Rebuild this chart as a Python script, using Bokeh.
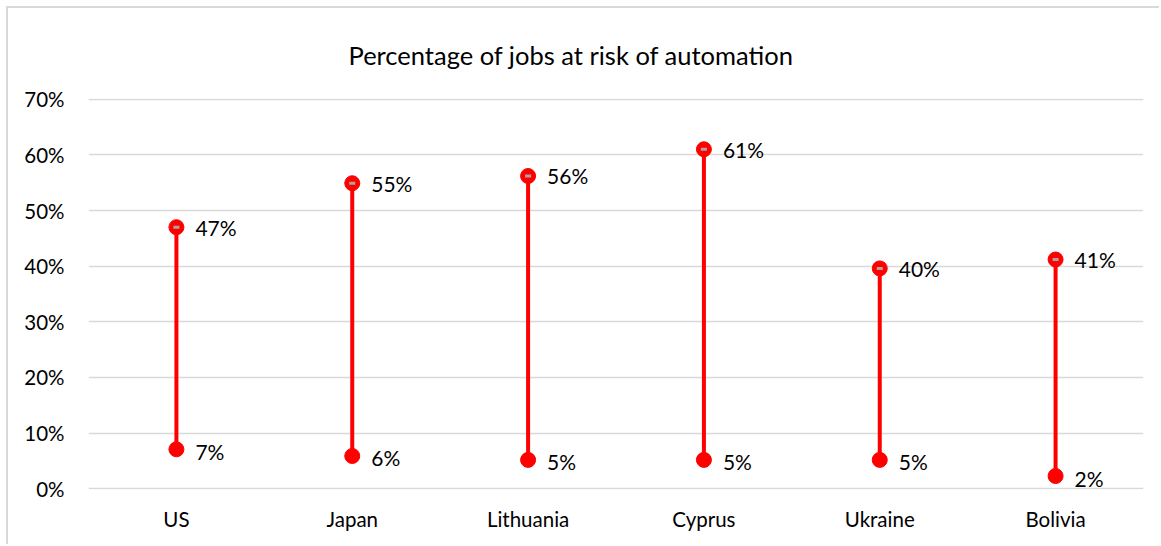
from bokeh.plotting import figure
from bokeh.models import ColumnDataSource, PrintfTickFormatter, FixedTicker, Range1d, LabelSet
from bokeh.core.properties import value
from bokeh.embed import file_html
from bokeh.resources import INLINE

title_text = "Percentage of jobs at risk of automation"
countries = ["US", "Japan", "Lithuania", "Cyprus", "Ukraine", "Bolivia"]
high = [47.0, 54.9, 56.2, 61.0, 39.6, 41.2]
low = [7.1, 5.9, 5.2, 5.2, 5.2, 2.3]
y_ticks = [0, 10, 20, 30, 40, 50, 60, 70]

FONT = "Lato"
RED = "#FF0000"

src = ColumnDataSource(dict(
    x=countries, high=high, low=low,
    high_lbl=[f"{round(v)}%" for v in high],
    low_lbl=[f"{round(v)}%" for v in low],
))

p = figure(x_range=countries, y_range=Range1d(-0.12, 70.12), width=1153, height=538,
           output_backend="svg", toolbar_location=None,
           min_border_left=80, min_border_right=18, min_border_top=88, min_border_bottom=57)
p.styles = {"margin-left": "6px", "margin-top": "6px",
            "border-left": "2px solid #d9d9d9", "border-top": "2px solid #d9d9d9"}

p.title.text = title_text
p.title.align = "left"
p.title.offset = 260
p.title.text_font = FONT
p.title.text_font_size = "25.5px"
p.title.text_font_style = "normal"
p.title.text_color = "#000000"
p.title.standoff = 58

p.outline_line_color = None
p.xgrid.grid_line_color = None
p.ygrid.grid_line_color = "#d9d9d9"
p.ygrid.grid_line_width = 1.5

p.yaxis.ticker = FixedTicker(ticks=y_ticks)
p.yaxis.formatter = PrintfTickFormatter(format="%d%%")
for ax in (p.xaxis, p.yaxis):
    ax.axis_line_color = None
    ax.major_tick_line_color = None
    ax.minor_tick_line_color = None
    ax.major_label_text_font = FONT
    ax.major_label_text_font_size = "20.5px"
    ax.major_label_text_color = "#000000"
p.yaxis.major_label_standoff = 18
p.xaxis.major_label_standoff = 11

p.segment(x0="x", y0="low", x1="x", y1="high", source=src, line_color=RED, line_width=4)
p.scatter(x="x", y="high", source=src, size=15, fill_color=RED, line_color=RED)
p.scatter(x="x", y="low", source=src, size=15, fill_color=RED, line_color=RED)
p.scatter(x="x", y="high", source=src, marker="dash", size=6, line_color="#a6a6a6", line_width=3)

hl = LabelSet(x="x", y="high", text="high_lbl", source=src, x_offset=19, y_offset=0,
              text_font=value(FONT), text_font_size="21px", text_baseline="middle", text_color="#000000")
ll = LabelSet(x="x", y="low", text="low_lbl", source=src, x_offset=19, y_offset=-2,
              text_font=value(FONT), text_font_size="21px", text_baseline="middle", text_color="#000000")
p.add_layout(hl)
p.add_layout(ll)

open("out.html", "w").write(file_html(p, INLINE))
